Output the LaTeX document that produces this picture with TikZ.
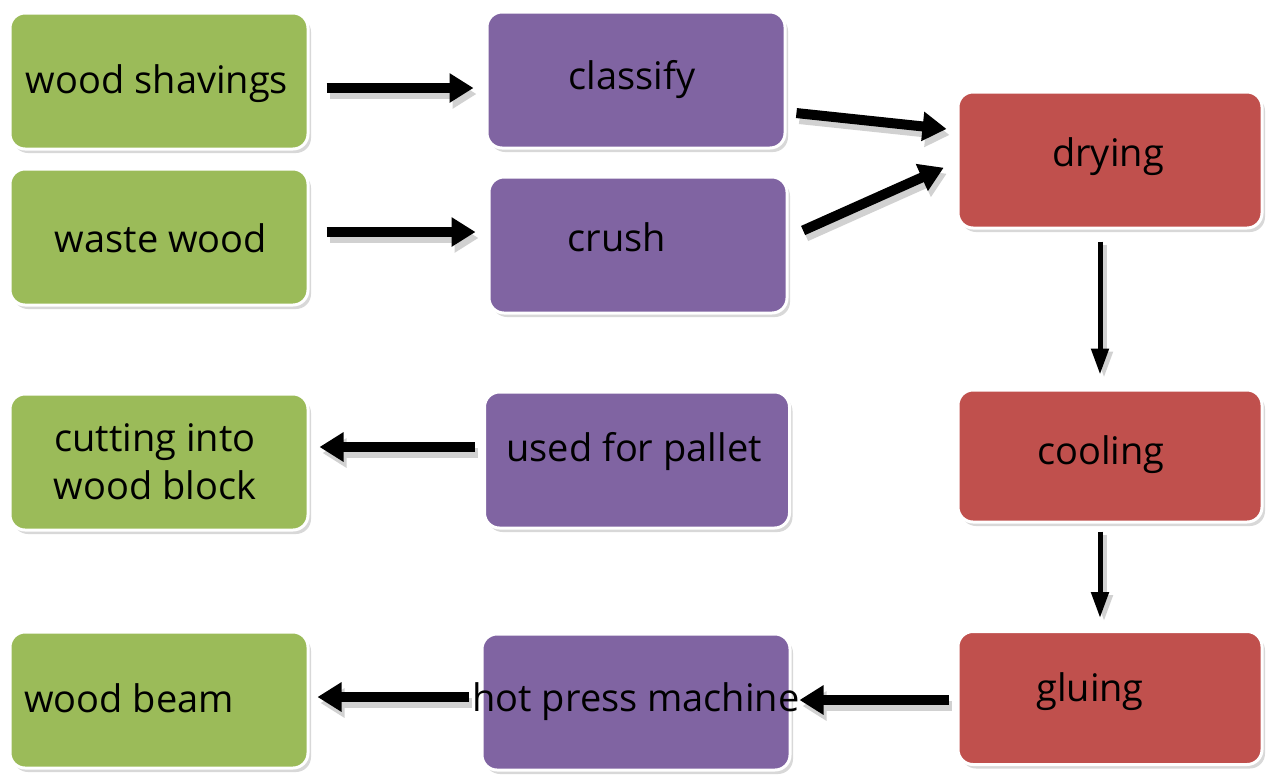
\documentclass[tikz,border=0pt]{standalone}
\usepackage{fontspec}
\setmainfont{Open Sans}
\usetikzlibrary{arrows.meta,shadows}
\definecolor{bxgreen}{RGB}{155,187,89}
\definecolor{bxpurple}{RGB}{128,100,162}
\definecolor{bxred}{RGB}{192,80,77}
\tikzset{
  box/.style={rectangle, rounded corners=15pt, draw=white, line width=3pt,
    minimum width=298pt, minimum height=136pt, inner sep=0pt,
    drop shadow={shadow xshift=3pt, shadow yshift=-4pt, fill=black!30, opacity=0.5}},
  gbox/.style={box, fill=bxgreen},
  pbox/.style={box, fill=bxpurple},
  rbox/.style={box, fill=bxred},
  txt/.style={font=\fontsize{38}{46}\selectfont, text=black, align=center, inner sep=0pt},
  fat/.style={line width=10pt, -{Triangle[length=24pt,width=28pt]}},
  thin/.style={line width=5pt, -{Triangle[length=26pt,width=17pt]}},
  fatsh/.style={fat, draw=black!18, transform canvas={xshift=3pt,yshift=-6pt}},
  thinsh/.style={thin, draw=black!18, transform canvas={xshift=4pt,yshift=-3pt}},
}
\begin{document}
\begin{tikzpicture}[x=1pt,y=-1pt]
\useasboundingbox (0,0) rectangle (1271,780);
% boxes
\node[gbox] (ws) at (159,81) {};
\node[gbox] (waste) at (159,237) {};
\node[pbox] (classify) at (636,80) {};
\node[pbox] (crush) at (638,245) {};
\node[rbox, minimum width=304pt] (drying) at (1110,160) {};
\node[rbox, minimum width=304pt, minimum height=132pt] (cooling) at (1110,456) {};
\node[rbox, minimum width=304pt, minimum height=133pt] (gluing) at (1110,698) {};
\node[pbox, minimum width=305pt] (pallet) at (637,460) {};
\node[gbox] (cutting) at (159,462) {};
\node[pbox, minimum width=308pt] (hot) at (636,702) {};
\node[gbox] (beam) at (159,700) {};
% texts
\node[txt] (t1) at (157,84) {wood shavings};
\node[txt] (t2) at (161,238) {waste wood};
\node[txt] (t3) at (632,80) {classify};
\node[txt] (t4) at (617,237) {crush};
\node[txt] (t5) at (1108,157) {drying};
\node[txt] (t6) at (634,452) {used for pallet};
\node[txt] (t7) at (1101,455) {cooling};
\node[txt, font=\fontsize{38}{48}\selectfont] (t8) at (155,462) {cutting into\\wood block};
\node[txt] (t9) at (1090,692) {gluing};
\node[txt] (t10) at (129,698) {wood beam};
% arrows: shadows
\draw[fatsh, shorten <=17pt, shorten >=12pt] ([yshift=-7pt]ws.east) -- ([yshift=-7pt]ws.east -| classify.west);
\draw[fatsh, shorten <=17pt, shorten >=12pt] ([yshift=5pt]waste.east) -- ([yshift=5pt]waste.east -| crush.west);
\draw[fatsh, shorten <=10pt, shorten >=10pt] ([yshift=-32pt]classify.east) -- ([yshift=30pt]drying.west);
\draw[fatsh, shorten <=16pt, shorten >=14pt] ([yshift=8pt]crush.east) -- ([yshift=-2pt]drying.west);
\draw[fatsh, shorten <=8pt, shorten >=10pt] ([yshift=13pt]pallet.west) -- ([yshift=13pt]pallet.west -| cutting.east);
\draw[fatsh, shorten <=8pt, shorten >=8pt] ([yshift=-2pt]gluing.west) -- ([yshift=-2pt]gluing.west -| hot.east);
\draw[fatsh, shorten <=12pt, shorten >=8pt] ([yshift=5pt]hot.west) -- ([yshift=5pt]hot.west -| beam.east);
\draw[thinsh, shorten <=12pt, shorten >=14pt] ([xshift=-10pt]drying.south) -- ([xshift=-10pt]cooling.north);
\draw[thinsh, shorten <=8pt, shorten >=12pt] ([xshift=-10pt]cooling.south) -- ([xshift=-10pt]gluing.north);
% arrows
\draw[fat, shorten <=17pt, shorten >=12pt] ([yshift=-7pt]ws.east) -- ([yshift=-7pt]ws.east -| classify.west);
\draw[fat, shorten <=17pt, shorten >=12pt] ([yshift=5pt]waste.east) -- ([yshift=5pt]waste.east -| crush.west);
\draw[fat, shorten <=10pt, shorten >=10pt] ([yshift=-32pt]classify.east) -- ([yshift=30pt]drying.west);
\draw[fat, shorten <=16pt, shorten >=14pt] ([yshift=8pt]crush.east) -- ([yshift=-2pt]drying.west);
\draw[fat, shorten <=8pt, shorten >=10pt] ([yshift=13pt]pallet.west) -- ([yshift=13pt]pallet.west -| cutting.east);
\draw[fat, shorten <=8pt, shorten >=8pt] ([yshift=-2pt]gluing.west) -- ([yshift=-2pt]gluing.west -| hot.east);
\draw[fat, shorten <=12pt, shorten >=8pt] ([yshift=5pt]hot.west) -- ([yshift=5pt]hot.west -| beam.east);
\draw[thin, shorten <=12pt, shorten >=14pt] ([xshift=-10pt]drying.south) -- ([xshift=-10pt]cooling.north);
\draw[thin, shorten <=8pt, shorten >=12pt] ([xshift=-10pt]cooling.south) -- ([xshift=-10pt]gluing.north);
% text over arrows
\node[txt] (t11) at (636,702) {hot press machine};
\end{tikzpicture}
\end{document}
